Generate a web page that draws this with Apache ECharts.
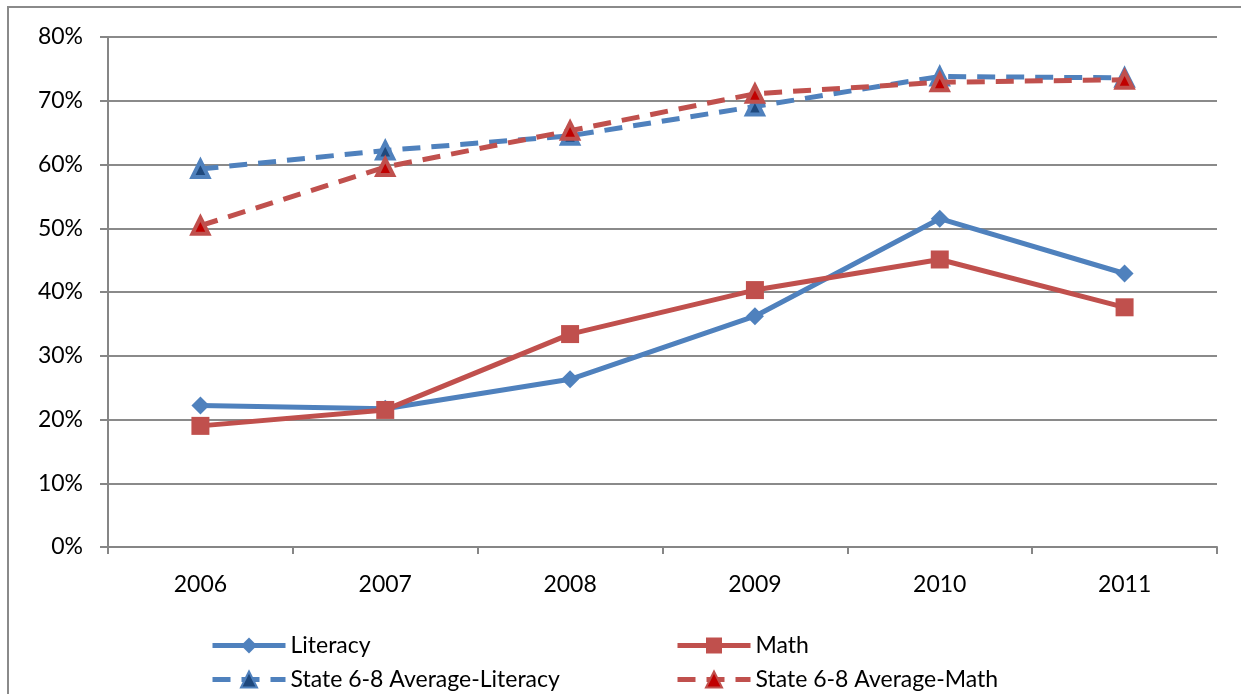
<!DOCTYPE html>
<html>
<head>
<meta charset="utf-8">
<script src="https://cdn.jsdelivr.net/npm/echarts@6/dist/echarts.min.js"></script>
<style>
html,body{margin:0;padding:0;background:#fff;}
#c{width:1241px;height:694px;}
</style>
</head>
<body>
<div id="c"></div>
<script>
const years = ['2006','2007','2008','2009','2010','2011'];
const literacy = [22.2, 21.7, 26.3, 36.2, 51.5, 42.9];
const math = [19.0, 21.5, 33.4, 40.3, 45.1, 37.6];
const stateLiteracy = [59.3, 62.2, 64.5, 69.1, 73.8, 73.6];
const stateMath = [50.4, 59.6, 65.3, 71.1, 72.9, 73.3];
const seriesNames = ['Literacy','Math','State 6-8 Average-Literacy','State 6-8 Average-Math'];

const FONT = 'Lato, "Open Sans", sans-serif';
const FS = 23;
const chart = echarts.init(document.getElementById('c'));
const legendBase = {
  itemWidth: 73, itemHeight: 20, itemGap: 0,
  textStyle: {fontFamily: FONT, fontSize: FS, color: '#000'},
  lineStyle: {width: 5},
  padding: 0
};
chart.setOption({
  animation: false,
  backgroundColor: '#fff',
  graphic: [{
    type: 'rect', shape: {x: 8, y: 7, width: 1300, height: 800},
    style: {fill: 'none', stroke: '#8a8a8a', lineWidth: 2}, silent: true
  }],
  grid: {left: 108, right: 24, top: 37, bottom: 147},
  legend: [
    Object.assign({}, legendBase, {data: [seriesNames[0]], left: 210, top: 634}),
    Object.assign({}, legendBase, {data: [seriesNames[1]], left: 675, top: 634}),
    Object.assign({}, legendBase, {data: [seriesNames[2]], left: 210, top: 668}),
    Object.assign({}, legendBase, {data: [seriesNames[3]], left: 675, top: 668})
  ],
  xAxis: {
    type: 'category', data: years, boundaryGap: true,
    axisLine: {lineStyle: {color: '#868686', width: 2}},
    axisTick: {show: true, length: 7, lineStyle: {color: '#868686', width: 2}},
    axisLabel: {fontFamily: FONT, fontSize: FS, color: '#000', margin: 26}
  },
  yAxis: {
    type: 'value', min: 0, max: 80, interval: 10,
    axisLine: {show: true, lineStyle: {color: '#868686', width: 2}},
    axisTick: {show: true, length: 8, lineStyle: {color: '#868686', width: 2}},
    splitLine: {lineStyle: {color: '#8a8a8a', width: 2}},
    axisLabel: {fontFamily: FONT, fontSize: FS, color: '#000', margin: 25, formatter: '{value}%'}
  },
  series: [
    {name: seriesNames[0], type: 'line', data: literacy, symbol: 'diamond', symbolSize: 18,
     lineStyle: {color: '#4F81BD', width: 5}, itemStyle: {color: '#4F81BD'}, z: 3},
    {name: seriesNames[1], type: 'line', data: math, symbol: 'rect', symbolSize: 18,
     lineStyle: {color: '#C0504D', width: 5}, itemStyle: {color: '#C0504D'}, z: 4},
    {name: seriesNames[2], type: 'line', data: stateLiteracy, symbol: 'triangle', symbolSize: 16,
     lineStyle: {color: '#4F81BD', width: 5, type: [18, 11]},
     itemStyle: {color: '#1F497D', borderColor: '#4F81BD', borderWidth: 4}, z: 3},
    {name: seriesNames[3], type: 'line', data: stateMath, symbol: 'triangle', symbolSize: 16,
     lineStyle: {color: '#C0504D', width: 5, type: [18, 11]},
     itemStyle: {color: '#C00000', borderColor: '#C0504D', borderWidth: 4}, z: 4}
  ]
});
</script>
</body>
</html>
